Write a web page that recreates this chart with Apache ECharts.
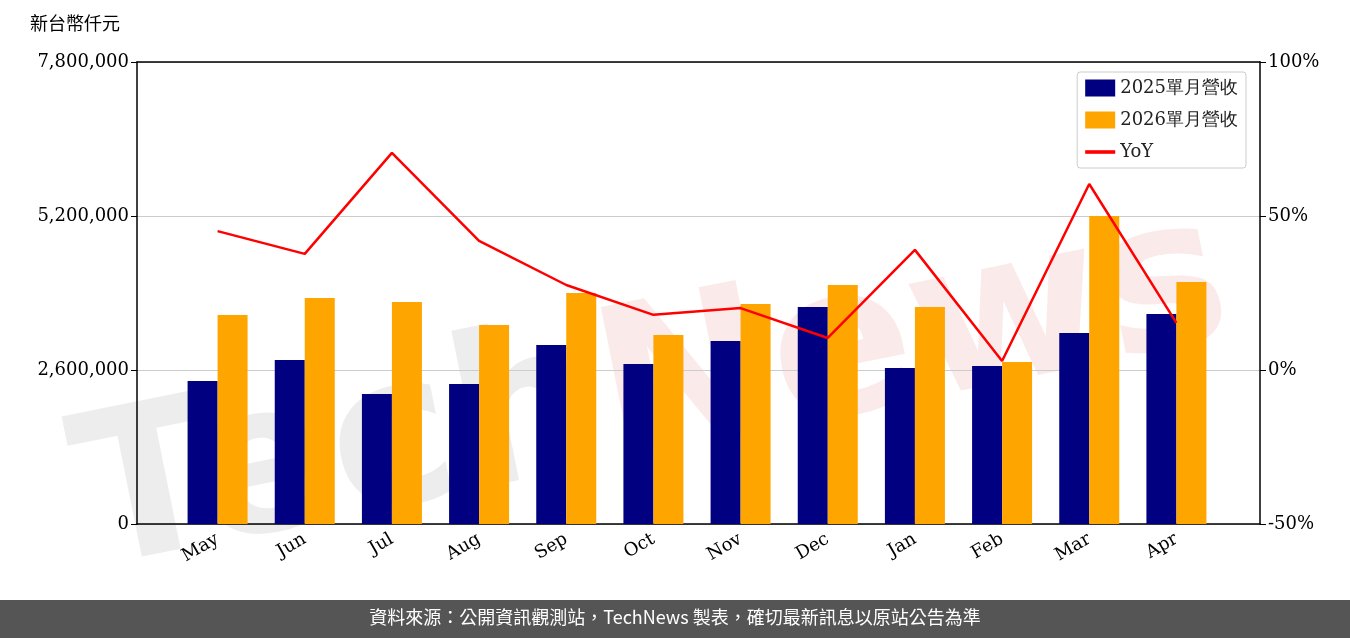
<!DOCTYPE html>
<html><head><meta charset="utf-8">
<script src="https://cdn.jsdelivr.net/npm/echarts@6/dist/echarts.min.js"></script>
<style>html,body{margin:0;padding:0;background:#fff}#c{width:1350px;height:638px}</style>
</head><body><div id="c"></div>
<script>
const categories=['May','Jun','Jul','Aug','Sep','Oct','Nov','Dec','Jan','Feb','Mar','Apr'];
const rev2025=[2414000,2769000,2195000,2364000,3022000,2701000,3090000,3664000,2634000,2668000,3225000,3545000];
const rev2026=[3528000,3816000,3748000,3360000,3900000,3191000,3714000,4035000,3664000,2735000,5200000,4086000];
const yoy=[45.1,37.7,70.5,41.9,27.6,17.9,20.1,10.4,39.0,2.9,60.4,15.3];
const leftTicks=[0,2600000,5200000,7800000];
const F='DejaVu Serif';
const lbl={fontFamily:F,fontSize:18,color:'#000'};
const chart=echarts.init(document.getElementById('c'));
chart.setOption({
  animation:false,
  textStyle:{fontFamily:F},
  grid:[{left:137,right:90,top:62,bottom:114},{left:174,right:130,top:62,bottom:114}],
  legend:{right:104,top:72,orient:'vertical',itemWidth:30,itemHeight:17,itemGap:14,
    backgroundColor:'#fff',borderColor:'#ccc',borderWidth:1,borderRadius:3,padding:[7,8,7,8],
    textStyle:{fontFamily:F,fontSize:18,color:'#222'},
    data:[{name:'2025單月營收',icon:'rect'},{name:'2026單月營收',icon:'rect'},{name:'YoY',icon:'path://M0,0H10V1.2H0Z'}]},
  xAxis:[
    {gridIndex:0,type:'value',min:0,max:1,position:'bottom',axisLine:{show:true,onZero:false,lineStyle:{color:'#000',width:1.5}},axisTick:{show:false},axisLabel:{show:false},splitLine:{show:false}},
    {gridIndex:0,type:'value',min:0,max:1,position:'top',axisLine:{show:true,onZero:false,lineStyle:{color:'#000',width:1.5}},axisTick:{show:false},axisLabel:{show:false},splitLine:{show:false}},
    {gridIndex:1,type:'category',data:categories,axisLine:{show:false,onZero:false},axisTick:{show:false},
     axisLabel:Object.assign({rotate:30,margin:14},lbl)}
  ],
  yAxis:[
    {gridIndex:0,type:'value',min:0,max:7800000,interval:2600000,
     axisLine:{show:true,onZero:false,lineStyle:{color:'#000',width:1.5}},axisTick:{show:true,length:6,lineStyle:{color:'#000'}},
     axisLabel:Object.assign({formatter:v=>leftTicks.includes(v)?v.toLocaleString('en-US'):''},lbl),
     splitLine:{lineStyle:{color:'#ccc',width:1.2}}},
    {gridIndex:0,type:'value',min:-50,max:100,interval:50,position:'right',
     axisLine:{show:true,onZero:false,lineStyle:{color:'#000',width:1.5}},axisTick:{show:true,length:6,lineStyle:{color:'#000'}},
     axisLabel:Object.assign({formatter:'{value}%'},lbl),splitLine:{show:false}},
    {gridIndex:1,type:'value',min:0,max:7800000,show:false},
    {gridIndex:1,type:'value',min:-50,max:100,show:false}
  ],
  graphic:[
    {type:'text',left:30,top:14,style:{text:'新台幣仟元',font:'18px "Noto Sans CJK TC"',fill:'#000'}},
    {type:'text',x:690,y:255,rotation:0.2,originX:690,originY:255,z:-1,silent:true,
     style:{text:'{a|Tech}{b|News}',align:'center',verticalAlign:'middle',
       rich:{a:{font:'bold 210px "DejaVu Sans"',fill:'rgba(190,190,190,0.28)'},b:{font:'bold 210px "DejaVu Sans"',fill:'rgba(235,150,150,0.2)'}}}},
    {type:'rect',left:0,top:600,shape:{width:1350,height:38},style:{fill:'#555'}},
    {type:'text',left:'center',top:608,style:{text:'資料來源：公開資訊觀測站，TechNews 製表，確切最新訊息以原站公告為準',font:'18px "Noto Sans CJK TC"',fill:'#fff'}}
  ],
  series:[
    {name:'2025單月營收',type:'bar',xAxisIndex:2,yAxisIndex:2,data:rev2025,barWidth:30,barGap:'0%',itemStyle:{color:'#000080'},z:3},
    {name:'2026單月營收',type:'bar',xAxisIndex:2,yAxisIndex:2,data:rev2026,barWidth:30,itemStyle:{color:'#FFA500'},z:3},
    {name:'YoY',type:'line',xAxisIndex:2,yAxisIndex:3,data:yoy,symbol:'none',lineStyle:{color:'#FF0000',width:2.5},itemStyle:{color:'#FF0000'},z:5}
  ]
});
</script></body></html>
